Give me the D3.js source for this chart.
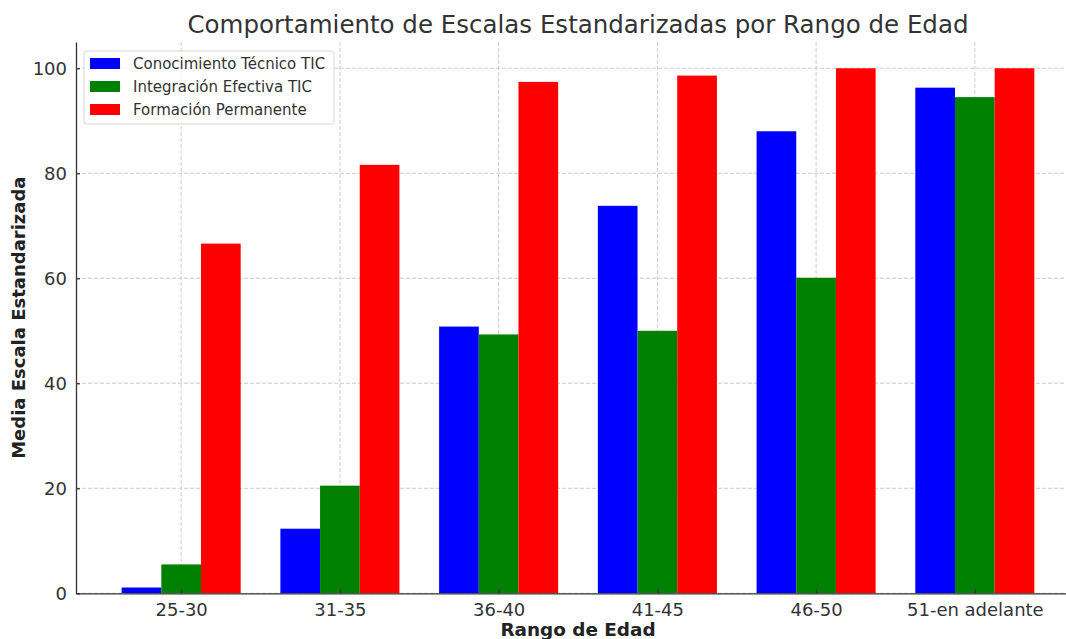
<!DOCTYPE html>
<html>
<head>
<meta charset="utf-8">
<script src="https://cdn.jsdelivr.net/npm/d3@7"></script>
<style>
  html, body { margin: 0; padding: 0; background: #fff; }
  svg { display: block; font-family: "DejaVu Sans", sans-serif; }
</style>
</head>
<body>
<svg id="chart" width="1066" height="639"></svg>
<script>
// Age ranges shown along the x axis
const ageRanges = ["25-30", "31-35", "36-40", "41-45", "46-50", "51-en adelante"];

// Mean standardized score per scale and age range
const conocimientoTecnico = [1.1, 12.3, 50.8, 73.8, 88.0, 96.3];
const integracionEfectiva = [5.5, 20.5, 49.3, 50.0, 60.1, 94.5];
const formacionPermanente = [66.6, 81.6, 97.4, 98.6, 100, 100];

const seriesNames = ["Conocimiento Técnico TIC", "Integración Efectiva TIC", "Formación Permanente"];
const seriesColors = ["#0000ff", "#008000", "#ff0000"];
const seriesValues = [conocimientoTecnico, integracionEfectiva, formacionPermanente];

const yTicks = [0, 20, 40, 60, 80, 100];

const svg = d3.select("#chart");
const plotLeft = 76, plotRight = 1080, plotTop = 42, plotBottom = 593.3;

// x: category index (bars of width 0.25 each, three per group)
const barWidth = 0.25;
const x = d3.scaleLinear().domain([-0.6625, 5.6625]).range([plotLeft, plotRight]);
const offset = d3.scaleBand().domain(seriesNames).range([-1.5 * barWidth, 1.5 * barWidth]);
const y = d3.scaleLinear().domain([0, 105]).range([plotBottom, plotTop]);

const textColor = "#333333";
const gridColor = "#cccccc";

// Grid
const grid = svg.append("g");
grid.selectAll("line.gy").data(yTicks).join("line")
  .attr("x1", plotLeft).attr("x2", plotRight)
  .attr("y1", d => y(d)).attr("y2", d => y(d))
  .attr("stroke", gridColor).attr("stroke-width", 1).attr("stroke-dasharray", "4,2");
grid.selectAll("line.gx").data(ageRanges).join("line")
  .attr("x1", (d, i) => x(i)).attr("x2", (d, i) => x(i))
  .attr("y1", plotTop).attr("y2", plotBottom)
  .attr("stroke", gridColor).attr("stroke-width", 1).attr("stroke-dasharray", "4,2");

// Bars
seriesNames.forEach((name, s) => {
  svg.append("g").selectAll("rect").data(seriesValues[s]).join("rect")
    .attr("x", (d, i) => x(i + offset(name)))
    .attr("width", x(barWidth) - x(0))
    .attr("y", d => y(d))
    .attr("height", d => y(0) - y(d))
    .attr("fill", seriesColors[s]);
});

// Axes
const xAxis = d3.axisBottom(x).tickValues(d3.range(ageRanges.length))
  .tickFormat(i => ageRanges[i]).tickSizeInner(-4).tickSizeOuter(0).tickPadding(10);
const gx = svg.append("g").attr("transform", `translate(0,${plotBottom})`).call(xAxis);
gx.select(".domain").attr("stroke", textColor).attr("stroke-width", 1.3);
gx.selectAll(".tick line").attr("stroke", textColor).attr("stroke-width", 1.3);
gx.selectAll(".tick text").attr("fill", textColor).attr("font-size", 18)
  .attr("font-family", "DejaVu Sans");

const yAxis = d3.axisLeft(y).tickValues(yTicks).tickSizeInner(-4).tickSizeOuter(0).tickPadding(9);
const gy = svg.append("g").attr("transform", `translate(${plotLeft},0)`).call(yAxis);
gy.select(".domain").attr("stroke", textColor).attr("stroke-width", 1.3);
gy.selectAll(".tick line").attr("stroke", textColor).attr("stroke-width", 1.3);
gy.selectAll(".tick text").attr("fill", textColor).attr("font-size", 18)
  .attr("font-family", "DejaVu Sans");

// Title and axis labels
svg.append("text")
  .attr("x", (plotLeft + plotRight) / 2).attr("y", 33)
  .attr("text-anchor", "middle").attr("font-size", 24.5).attr("fill", textColor)
  .text("Comportamiento de Escalas Estandarizadas por Rango de Edad");

svg.append("text")
  .attr("x", (plotLeft + plotRight) / 2).attr("y", 636)
  .attr("text-anchor", "middle").attr("font-size", 18.4).attr("font-weight", "bold")
  .attr("fill", "#222").text("Rango de Edad");

svg.append("text")
  .attr("transform", `translate(25,${(plotTop + plotBottom) / 2}) rotate(-90)`)
  .attr("text-anchor", "middle").attr("font-size", 18).attr("font-weight", "bold")
  .attr("fill", "#222").text("Media Escala Estandarizada");

// Legend
const legend = svg.append("g").attr("transform", "translate(84,51)");
legend.append("rect")
  .attr("width", 250).attr("height", 73).attr("rx", 3)
  .attr("fill", "#ffffff").attr("fill-opacity", 0.85)
  .attr("stroke", "#d6d6d6").attr("stroke-width", 1);
const items = legend.selectAll("g.item").data(seriesNames).join("g")
  .attr("transform", (d, i) => `translate(6,${12.5 + i * 23})`);
items.append("rect").attr("width", 30).attr("height", 11).attr("y", -5.5)
  .attr("fill", (d, i) => seriesColors[i]);
items.append("text").attr("x", 43).attr("y", 5.5)
  .attr("font-size", 15).attr("fill", textColor).text(d => d);
</script>
</body>
</html>
